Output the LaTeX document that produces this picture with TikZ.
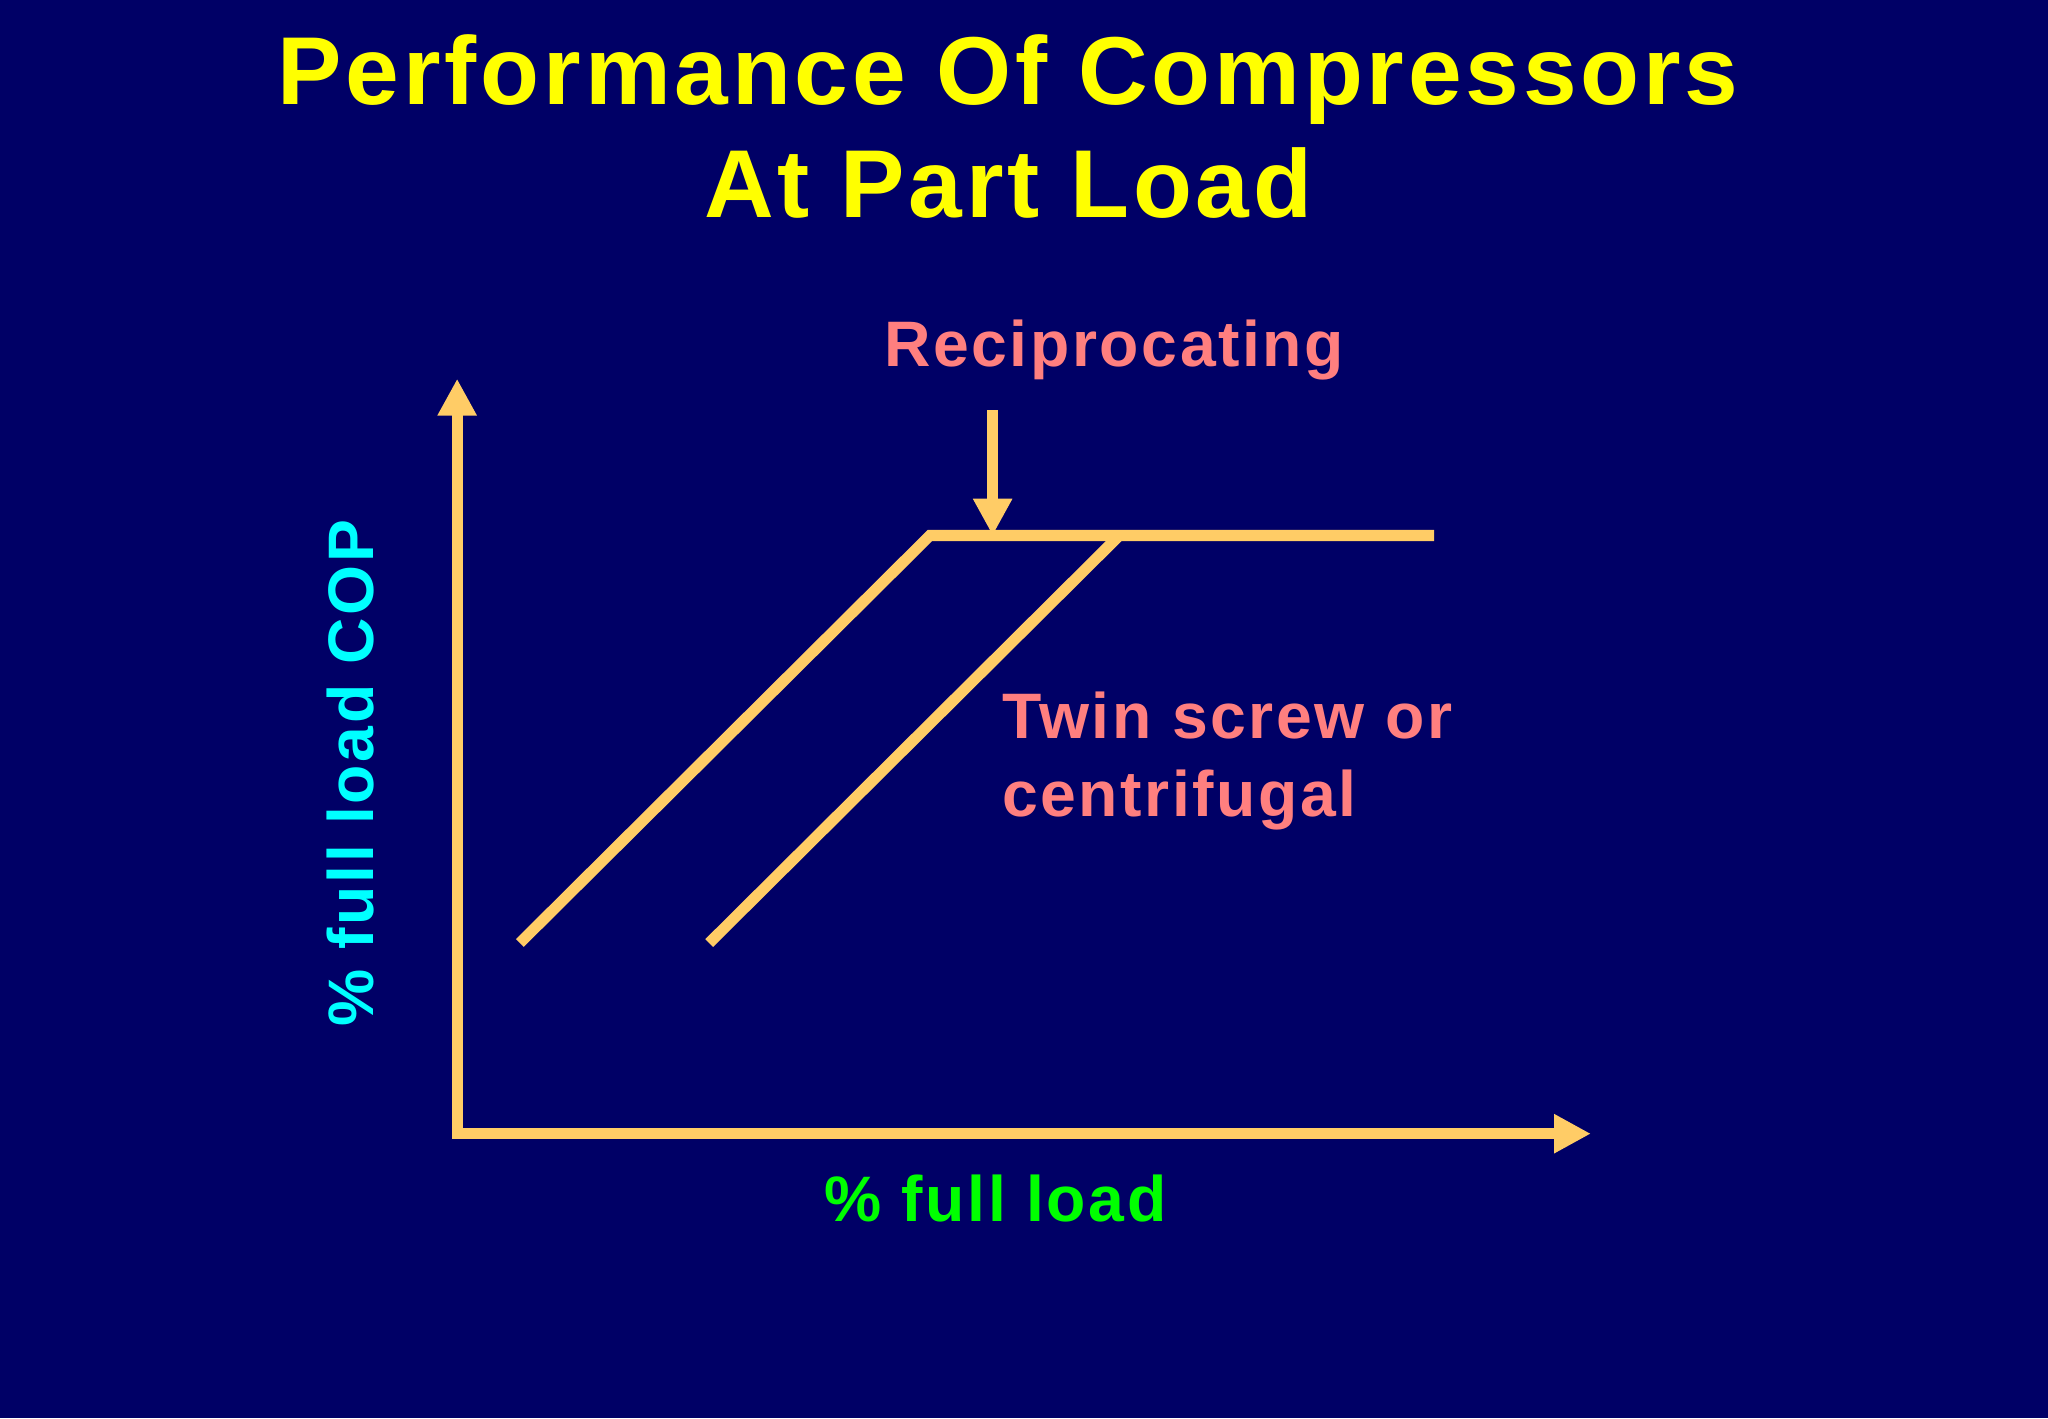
\documentclass[tikz,border=0pt]{standalone}
\usepackage{fontspec}
\setmainfont[LetterSpace=4]{Liberation Sans}
\usetikzlibrary{arrows.meta}
\definecolor{bg}{HTML}{000066}
\definecolor{ln}{HTML}{FFCC66}
\definecolor{sal}{HTML}{FF7F7F}
\definecolor{ttl}{HTML}{FFFF00}
\definecolor{cy}{HTML}{00FFFF}
\definecolor{gr}{HTML}{00FF00}
\begin{document}
\begin{tikzpicture}[x=0.01cm,y=-0.01cm,
  curve/.style={ln,line width=2.4pt},
  both/.style={{Triangle[length=8pt,width=8pt]}-{Triangle[length=8pt,width=8pt]}},
  one/.style={-{Triangle[length=8pt,width=8pt]}},
  lbl/.style={font=\bfseries\fontsize{14}{17}\selectfont}]
\fill[bg] (0,0) rectangle (1568,1086);
\useasboundingbox (0,0) rectangle (1568,1086);
\node[ttl,font=\bfseries\fontsize{21}{24.5}\selectfont,align=center] (title) at (772,97) {Performance Of Compressors\\At Part Load};
\coordinate (o) at (350,868);
\coordinate (ytip) at (350,290);
\coordinate (xtip) at (1218,868);
\draw[curve,line join=miter,both] (ytip) -- (o) -- (xtip);
\coordinate (a1) at (398,722); \coordinate (a2) at (712,410); \coordinate (a3) at (1098,410);
\coordinate (b1) at (543,722); \coordinate (b2) at (857,410);
\draw[curve,line join=miter] (a1) -- (a2) -- (a3);
\draw[curve] (b1) -- (b2);
\coordinate (r1) at (760,314); \coordinate (r2) at (760,410);
\draw[curve,one] (r1) -- (r2);
\node[lbl,sal] (recip) at (853,268) {Reciprocating};
\node[lbl,sal,anchor=west,align=left] (twin) at (755,583) {Twin screw or\\centrifugal};
\node[lbl,cy,rotate=90] (ylab) at (268,592) {\% full load COP};
\node[lbl,gr] (xlab) at (762,918) {\% full load};
\end{tikzpicture}
\end{document}
